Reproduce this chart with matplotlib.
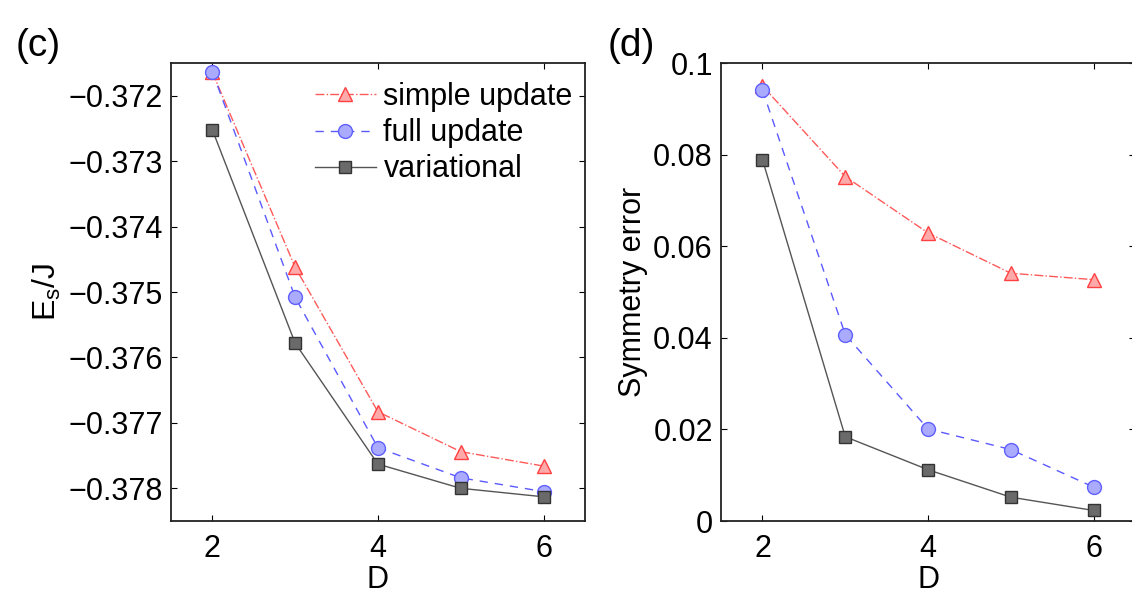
import matplotlib
matplotlib.use('Agg')
import matplotlib.pyplot as plt

plt.rcParams['font.family'] = ['Liberation Sans', 'DejaVu Sans']
plt.rcParams['mathtext.fontset'] = 'custom'
plt.rcParams['mathtext.rm'] = 'Liberation Sans'

D = [2, 3, 4, 5, 6]

# energy per site (c)
e_simple = [-0.37164, -0.37462, -0.37683, -0.37744, -0.37766]
e_full = [-0.37163, -0.37508, -0.37738, -0.37784, -0.37805]
e_var = [-0.37252, -0.37578, -0.37763, -0.37800, -0.37813]

# symmetry error (d)
s_simple = [0.0950, 0.0752, 0.0629, 0.0541, 0.0527]
s_full = [0.0941, 0.0407, 0.0201, 0.0156, 0.0074]
s_var = [0.0789, 0.0184, 0.0112, 0.0052, 0.0023]

labels = ['simple update', 'full update', 'variational']

styles = [
    dict(color='#ff5a5a', linestyle='-.', marker='^', markersize=10,
         markerfacecolor='#ffaaaa', markeredgecolor='#ff4040', linewidth=1.0),
    dict(color='#5a5aff', linestyle=(0, (6, 5)), marker='o', markersize=10,
         markerfacecolor='#aaaaff', markeredgecolor='#6060ff', linewidth=1.0),
    dict(color='#555555', linestyle='-', marker='s', markersize=8,
         markerfacecolor='#6a6a6a', markeredgecolor='#333333', linewidth=1.0),
]

fig = plt.figure(figsize=(11.32, 5.93), dpi=100)
ax1 = fig.add_axes([0.151, 0.1214, 0.3657, 0.7723])
ax2 = fig.add_axes([0.637, 0.1214, 0.3657, 0.7723])

for ys, st, lab in zip([e_simple, e_full, e_var], styles, labels):
    ax1.plot(D, ys, label=lab, **st)
for ys, st in zip([s_simple, s_full, s_var], styles):
    ax2.plot(D, ys, **st)

ax1.set_xlim(1.5, 6.5)
ax1.set_ylim(-0.3785, -0.3715)
ax1.set_yticks([-0.372, -0.373, -0.374, -0.375, -0.376, -0.377, -0.378])
ax1.set_yticklabels(['\u22120.372', '\u22120.373', '\u22120.374', '\u22120.375',
                     '\u22120.376', '\u22120.377', '\u22120.378'])
ax2.set_xlim(1.5, 6.5)
ax2.set_ylim(0, 0.1)
ax2.set_yticks([0, 0.02, 0.04, 0.06, 0.08, 0.1])
ax2.set_yticklabels(['0', '0.02', '0.04', '0.06', '0.08', '0.1'])

for ax in (ax1, ax2):
    ax.set_xticks([2, 4, 6])
    ax.tick_params(direction='in', top=True, right=True, labelsize=22,
                   length=4, width=0.8, pad=6)
    ax.tick_params(axis='x', pad=9)
    for sp in ax.spines.values():
        sp.set_linewidth(1.3)
        sp.set_color('#222222')
    ax.set_xlabel('D', fontsize=22, labelpad=1)

ax1.set_ylabel('E$_\\mathregular{s}$/J', fontsize=23, labelpad=4)
ax2.set_ylabel('Symmetry error', fontsize=22, labelpad=4)

ax1.legend(loc='upper right', frameon=False, fontsize=22, handlelength=2.0,
           handletextpad=0.25, labelspacing=0.2, borderaxespad=0.0,
           bbox_to_anchor=(1.0, 0.985))

fig.text(0.014, 0.905, '(c)', fontsize=28)
fig.text(0.537, 0.905, '(d)', fontsize=28)

fig.savefig('out.png', dpi=100)
